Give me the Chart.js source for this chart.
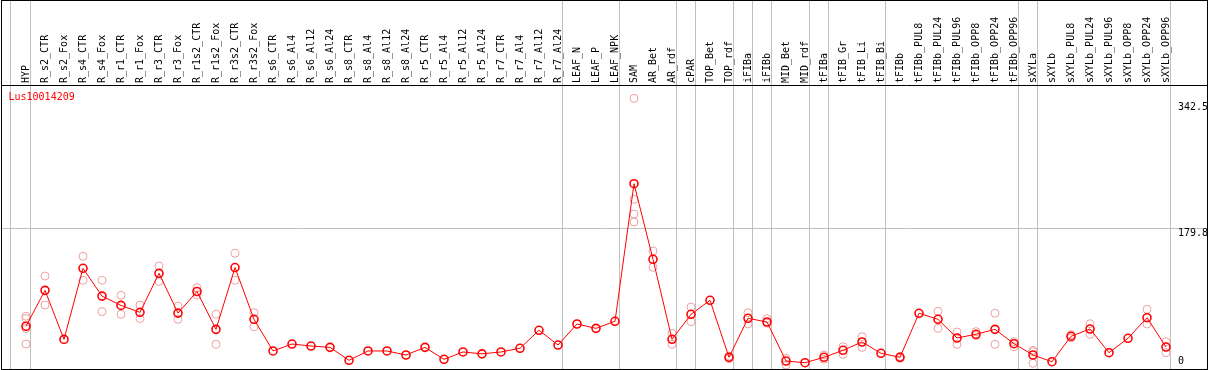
<!DOCTYPE html>
<html><head><meta charset="utf-8">
<script src="https://cdn.jsdelivr.net/npm/chart.js@4.4.1/dist/chart.umd.min.js"></script>
<style>
html,body{margin:0;padding:0;background:#fff;}
#wrap{position:relative;width:1209px;height:370px;}
#frame{position:absolute;left:1px;top:0;width:1205px;height:368px;border:1px solid #000;pointer-events:none;}
canvas{display:block;}
</style></head><body>
<div id="wrap"><canvas id="c" width="1209" height="370"></canvas><div id="frame"></div></div>
<script>
const geneTitle = 'Lus10014209';

const categories = ['HYP','R_s2_CTR','R_s2_Fox','R_s4_CTR','R_s4_Fox','R_r1_CTR','R_r1_Fox','R_r3_CTR','R_r3_Fox',
'R_r1s2_CTR','R_r1s2_Fox','R_r3s2_CTR','R_r3s2_Fox','R_s6_CTR','R_s6_Al4','R_s6_Al12','R_s6_Al24',
'R_s8_CTR','R_s8_Al4','R_s8_Al12','R_s8_Al24','R_r5_CTR','R_r5_Al4','R_r5_Al12','R_r5_Al24',
'R_r7_CTR','R_r7_Al4','R_r7_Al12','R_r7_Al24','LEAF_N','LEAF_P','LEAF_NPK','SAM','AR_Bet','AR_rdf',
'cPAR','TOP_Bet','TOP_rdf','iFIBa','iFIBb','MID_Bet','MID_rdf','tFIBa','tFIB_Gr','tFIB_Li','tFIB_Bi',
'tFIBb','tFIBb_PUL8','tFIBb_PUL24','tFIBb_PUL96','tFIBb_OPP8','tFIBb_OPP24','tFIBb_OPP96',
'sXYLa','sXYLb','sXYLb_PUL8','sXYLb_PUL24','sXYLb_PUL96','sXYLb_OPP8','sXYLb_OPP24','sXYLb_OPP96'];

const meanValues = [53, 99.5, 36, 128, 92, 80, 71, 121.5, 70, 98, 49, 129, 62,
21, 30, 27.4, 25.7, 8.9, 21, 21, 15.8, 25.7, 10.2, 19.7, 17.3, 19.7, 24.5, 47.8, 28.7,
55.9, 50.3, 59.4, 237.5, 139.7, 36.1, 68.5, 86.6, 12.8, 63.3, 58.5, 8, 5.8,
12.8, 21.9, 32.6, 18, 12.8, 69.8, 62, 37.8, 42.6, 49, 30.4,
15.8, 7.1, 40, 49.4, 18.8, 37.4, 64.1, 26.1];

const replicateValues = [
[66, 63, 50, 30], [118, 80.5], [], [143.5, 112.5], [112.5, 72], [93, 68.5], [80.5, 63], [131, 111], [79, 62],
[103, 93.5], [68.5, 29.6], [147.4, 112.5], [70.5, 52.4],
[], [], [], [], [], [], [], [], [], [], [], [], [], [], [], [],
[], [], [], [348, 217.3, 198.3, 188], [150.4, 129.3], [43.9, 29.6], [77.9, 58.9], [], [14.5, 11],
[70.5, 55.9], [62.8, 57], [11.5, 2.8], [],
[15.8, 10.2], [26.5, 16.7], [39.5, 25.7], [], [14, 11.5], [], [72.3, 50.3], [45.6, 29.6], [46, 40.8], [69.8, 29.6], [33, 26.5],
[21.9, 20, 5], [], [42, 38], [56.3, 42.6], [], [], [74.9, 55.9], [33, 18.8]];

// group separators (category index positions of the vertical grid lines)
const groupBoundaries = [-0.82, 0.22, 28.22, 31.22, 34.22, 35.22, 37.22, 38.22, 39.22, 41.22, 42.22, 45.22, 52.22, 53.22, 60.22];
const yTickValues = [0, 179.8, 342.5];

const FONT = "'DejaVu Sans Mono', monospace";
const X_MIN = -24 / 19, X_MAX = X_MIN + 1205 / 19;
const Y_MIN = -2.33, Y_MAX = 365.27;

const meanPoints = meanValues.map((v, i) => ({x: i, y: v}));
const repPoints = [];
replicateValues.forEach((arr, i) => arr.forEach(v => repPoints.push({x: i, y: v})));
const boundarySet = new Set(groupBoundaries);

const titlePlugin = {
  id: 'geneTitle',
  afterDraw(chart) {
    const {ctx, chartArea} = chart;
    ctx.save();
    ctx.font = "10px " + FONT;
    ctx.fillStyle = '#ff0000';
    ctx.textBaseline = 'middle';
    ctx.textAlign = 'left';
    ctx.fillText(geneTitle, chartArea.left + 6.5, chartArea.top + 12.9);
    ctx.restore();
  }
};

new Chart(document.getElementById('c'), {
  type: 'scatter',
  data: {
    datasets: [
      { label: 'mean', data: meanPoints, showLine: true, borderColor: '#ff0000', borderWidth: 1,
        pointRadius: 4, pointBorderWidth: 1.6, pointBorderColor: '#ff0000', pointBackgroundColor: 'rgba(0,0,0,0)',
        backgroundColor: 'rgba(0,0,0,0)', tension: 0, fill: false },
      { label: 'replicates', data: repPoints, showLine: false, pointRadius: 4, pointBorderWidth: 1,
        pointBorderColor: '#f0a0a0', pointBackgroundColor: 'rgba(0,0,0,0)', backgroundColor: 'rgba(0,0,0,0)' }
    ]
  },
  options: {
    responsive: false,
    animation: false,
    devicePixelRatio: 1,
    layout: { autoPadding: false, padding: { left: 2, right: 2, top: 0, bottom: 1 } },
    plugins: { legend: { display: false }, tooltip: { enabled: false }, title: { display: false } },
    scales: {
      x: {
        type: 'linear', position: 'top', min: X_MIN, max: X_MAX, bounds: 'data',
        afterBuildTicks: s => {
          const vals = categories.map((c, i) => i).concat(groupBoundaries).sort((a, b) => a - b);
          s.ticks = vals.map(v => ({value: v}));
        },
        afterFit: s => { s.height = 85; s.paddingLeft = 0; s.paddingRight = 0; s.paddingTop = 0; s.paddingBottom = 0; },
        ticks: {
          autoSkip: false, minRotation: 90, maxRotation: 90, padding: -83, labelOffset: 12.5, color: '#000',
          font: { family: FONT, size: 10 },
          callback: v => Number.isInteger(v) ? categories[v] : ''
        },
        grid: {
          display: true, drawOnChartArea: true, drawTicks: true, tickLength: 85, lineWidth: 1,
          color: ctx => (ctx.tick && boundarySet.has(ctx.tick.value)) ? '#c0c0c0' : 'rgba(0,0,0,0)'
        },
        border: { display: true, color: '#000', width: 1 }
      },
      y: {
        type: 'linear', position: 'right', min: Y_MIN, max: Y_MAX, bounds: 'data',
        afterBuildTicks: s => { s.ticks = yTickValues.map(v => ({value: v})); },
        afterFit: s => { s.width = 0; s.paddingTop = 0; s.paddingBottom = 0; s.paddingLeft = 0; s.paddingRight = 0; },
        ticks: {
          mirror: true, crossAlign: 'far', padding: 1, color: '#000',
          font: { family: FONT, size: 10, lineHeight: 1.06 },
          callback: v => v === 0 ? ['0', ''] : ['', v.toFixed(1)]
        },
        grid: {
          drawTicks: false, drawOnChartArea: true, lineWidth: 1,
          color: ctx => (ctx.index === 1) ? '#c0c0c0' : 'rgba(0,0,0,0)'
        },
        border: { display: false }
      }
    }
  },
  plugins: [titlePlugin]
});
</script>
</body></html>
